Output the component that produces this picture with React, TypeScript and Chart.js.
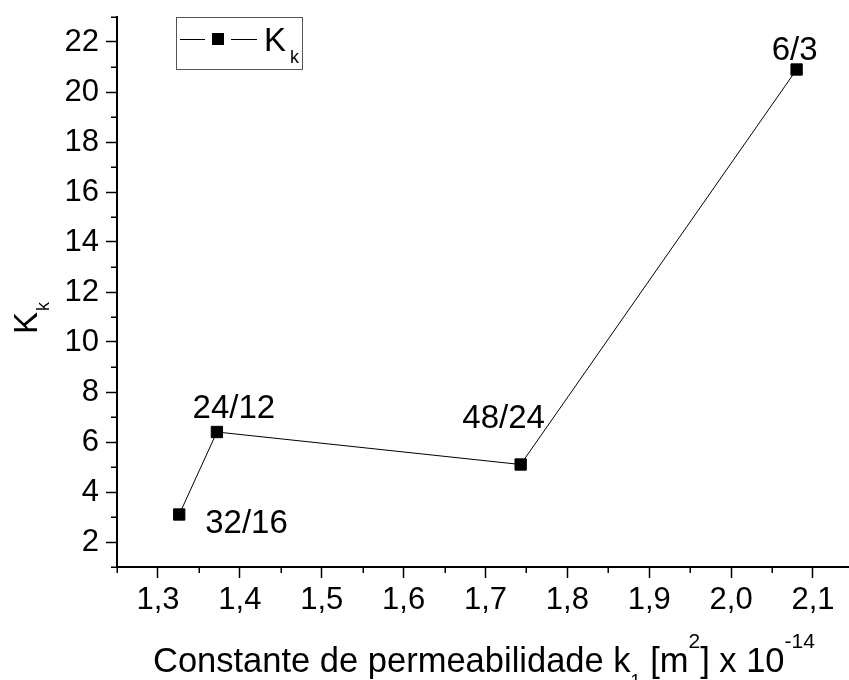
import React, { useEffect, useRef } from 'react';
import { Chart, registerables } from 'chart.js';

Chart.register(...registerables);

// ---- data ----
const permeability = [1.326, 1.372, 1.743, 2.08];
const kkValues = [3.1, 6.4, 5.1, 20.9];
const sampleLabels = ['32/16', '24/12', '48/24', '6/3'];
const xTickValues = [1.3, 1.4, 1.5, 1.6, 1.7, 1.8, 1.9, 2.0, 2.1];
const xMinorValues = [1.25, 1.35, 1.45, 1.55, 1.65, 1.75, 1.85, 1.95, 2.05];
const yTickValues = [2, 4, 6, 8, 10, 12, 14, 16, 18, 20, 22];
const yMinorValues = [1, 3, 5, 7, 9, 11, 13, 15, 17, 19, 21, 23];

// ---- styling (label offsets relative to their point) ----
const labelStyle: { dx: number; dy: number; align: CanvasTextAlign }[] = [
  { dx: 26, dy: 18, align: 'left' },
  { dx: 17, dy: -14, align: 'center' },
  { dx: -17, dy: -37, align: 'center' },
  { dx: -2, dy: -10, align: 'center' },
];

const FONT = '"Liberation Sans", Arial, sans-serif';

const overlayPlugin = {
  id: 'overlay',
  afterDraw(chart: any) {
    const ctx: CanvasRenderingContext2D = chart.ctx;
    const xs = chart.scales.x;
    const ys = chart.scales.y;
    const area = chart.chartArea;
    ctx.save();
    // minor ticks
    ctx.strokeStyle = '#000';
    ctx.lineWidth = 1.5;
    ctx.beginPath();
    yMinorValues.forEach((v) => {
      const py = Math.round(ys.getPixelForValue(v)) + 0.25;
      ctx.moveTo(area.left, py);
      ctx.lineTo(area.left - 6, py);
    });
    xMinorValues.forEach((v) => {
      const px = Math.round(xs.getPixelForValue(v)) + 0.25;
      ctx.moveTo(px, area.bottom);
      ctx.lineTo(px, area.bottom + 6);
    });
    ctx.stroke();

    // point labels
    ctx.fillStyle = '#000';
    ctx.textBaseline = 'alphabetic';
    ctx.font = `33px ${FONT}`;
    sampleLabels.forEach((lab, i) => {
      const px = xs.getPixelForValue(permeability[i]);
      const py = ys.getPixelForValue(kkValues[i]);
      const st = labelStyle[i];
      ctx.textAlign = st.align;
      ctx.fillText(lab, px + st.dx, py + st.dy);
    });

    // legend
    ctx.textAlign = 'left';
    ctx.strokeStyle = '#555';
    ctx.lineWidth = 1;
    ctx.strokeRect(176.5, 17.5, 126, 52);
    ctx.strokeStyle = '#000';
    ctx.beginPath();
    ctx.moveTo(180, 39.5);
    ctx.lineTo(205, 39.5);
    ctx.moveTo(231, 39.5);
    ctx.lineTo(257, 39.5);
    ctx.stroke();
    ctx.fillRect(212, 33, 12, 12);
    ctx.font = `33px ${FONT}`;
    ctx.fillText('K', 264, 51);
    ctx.font = `18px ${FONT}`;
    ctx.fillText('k', 290, 63);

    // y title
    ctx.save();
    ctx.translate(37, 334);
    ctx.rotate(-Math.PI / 2);
    ctx.font = `33px ${FONT}`;
    ctx.fillText('K', 0, 0);
    const wK = ctx.measureText('K').width;
    ctx.font = `18px ${FONT}`;
    ctx.fillText('k', wK + 1, 12);
    ctx.restore();

    // x title
    const segs: { t: string; size: number; dy: number }[] = [
      { t: 'Constante de permeabilidade k', size: 34.5, dy: 0 },
      { t: '1', size: 18, dy: 15 },
      { t: ' [m', size: 34.5, dy: 0 },
      { t: '2', size: 21, dy: -24 },
      { t: '] x 10', size: 34.5, dy: 0 },
      { t: '-14', size: 21, dy: -24 },
    ];
    let cx = 153;
    const base = 672;
    segs.forEach((s) => {
      ctx.font = `${s.size}px ${FONT}`;
      ctx.fillText(s.t, cx, base + s.dy);
      cx += ctx.measureText(s.t).width;
    });
    ctx.restore();
  },
};

export default function App() {
  const ref = useRef<HTMLCanvasElement>(null);
  useEffect(() => {
    if (!ref.current) return;
    const chart = new Chart(ref.current, {
      type: 'line',
      data: {
        datasets: [
          {
            label: 'Kk',
            data: permeability.map((x, i) => ({ x, y: kkValues[i] })),
            borderColor: '#000',
            borderWidth: 1,
            backgroundColor: '#000',
            pointStyle: 'rect',
            pointRadius: 8,
            pointBackgroundColor: '#000',
            pointBorderColor: '#000',
            pointBorderWidth: 1,
            tension: 0,
            fill: false,
            clip: false,
          },
        ],
      },
      options: {
        responsive: false,
        animation: false,
        devicePixelRatio: 1,
        events: [],
        layout: { autoPadding: false, padding: { top: 17, left: 0, right: 0, bottom: 0 } },
        plugins: {
          legend: { display: false },
          tooltip: { enabled: false },
          title: { display: false },
        },
        scales: {
          x: {
            type: 'linear',
            min: 1.25,
            max: 2.144,
            afterBuildTicks: (scale: any) => {
              scale.ticks = xTickValues.map((v) => ({ value: v }));
            },
            afterFit: (scale: any) => {
              scale.height = 113;
              scale.paddingLeft = 0;
              scale.paddingRight = 0;
              scale.paddingTop = 0;
              scale.paddingBottom = 0;
            },
            grid: {
              drawOnChartArea: false,
              drawTicks: true,
              tickLength: 11,
              tickColor: '#000',
              tickWidth: 1.5,
            },
            border: { display: true, color: '#000', width: 2 },
            ticks: {
              color: '#000',
              padding: 4,
              maxRotation: 0,
              autoSkip: false,
              font: { family: FONT, size: 31 },
              callback: (v: any) => Number(v).toFixed(1).replace('.', ','),
            },
          },
          y: {
            type: 'linear',
            min: 1,
            max: 23,
            afterBuildTicks: (scale: any) => {
              scale.ticks = yTickValues.map((v) => ({ value: v }));
            },
            afterFit: (scale: any) => {
              scale.width = 117;
              scale.paddingLeft = 0;
              scale.paddingRight = 0;
              scale.paddingTop = 0;
              scale.paddingBottom = 0;
            },
            grid: {
              drawOnChartArea: false,
              drawTicks: true,
              tickLength: 11,
              tickColor: '#000',
              tickWidth: 1.5,
            },
            border: { display: true, color: '#000', width: 2 },
            ticks: {
              color: '#000',
              padding: 7,
              autoSkip: false,
              font: { family: FONT, size: 31 },
              callback: (v: any) => String(v),
            },
          },
        },
      },
      plugins: [overlayPlugin],
    });
    return () => chart.destroy();
  }, []);
  return (
    <div style={{ position: 'absolute', left: 0, top: 0, width: 849, height: 680, background: '#fff' }}>
      <canvas ref={ref} width={849} height={680} style={{ display: 'block' }} />
    </div>
  );
}
